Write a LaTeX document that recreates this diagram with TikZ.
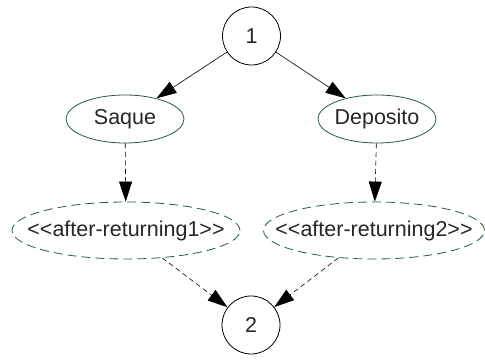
\documentclass[tikz,border=0pt]{standalone}
\usepackage{fontspec}
\newfontfamily\diagfont{Liberation Sans}
\usetikzlibrary{shapes.geometric,arrows.meta}
\definecolor{ovalgreen}{RGB}{36,92,58}
\newcommand{\ovaltext}[1]{\makebox[0pt]{#1}}
\tikzset{
  statecircle/.style={draw=black, line width=0.8pt, circle, minimum size=58pt, inner sep=0pt},
  actionoval/.style={draw=ovalgreen, line width=0.8pt, ellipse, inner sep=0pt},
  adviceoval/.style={draw=ovalgreen, line width=0.8pt, ellipse, inner sep=0pt,
    dash pattern=on 9pt off 5pt},
  flow/.style={draw=black, line width=0.6pt, -{Triangle[length=20pt,width=13pt]}},
  dashedflow/.style={flow, dash pattern=on 5pt off 3.5pt},
}
\begin{document}
\begin{tikzpicture}[x=1pt, y=1pt, font=\diagfont\fontsize{21.5}{26}\selectfont, text=black!85]
  \useasboundingbox (0,0) rectangle (485,361);

  % entry and exit states
  \node[statecircle] (s1) at (251.5,325) {1};
  \node[statecircle] (s2) at (251,36) {2};

  % operations
  \node[actionoval, minimum width=118pt, minimum height=48pt] (saque) at (125,242) {\ovaltext{Saque}};
  \node[actionoval, minimum width=118pt, minimum height=48pt] (deposito) at (377,242) {\ovaltext{Deposito}};

  % advice applied after each operation
  \node[adviceoval, minimum width=228pt, minimum height=57pt] (adv1) at (126,130.5) {\ovaltext{<<after-returning1>>}};
  \node[adviceoval, minimum width=221pt, minimum height=57pt] (adv2) at (374,130.5) {\ovaltext{<<after-returning2>>}};

  % transitions
  \draw[flow] (s1) -- (saque);
  \draw[flow] (s1) -- (deposito);
  \draw[dashedflow] (saque) -- (adv1);
  \draw[dashedflow] (deposito) -- (adv2);
  \draw[dashedflow] (adv1) -- (s2);
  \draw[dashedflow] (adv2) -- (s2);
\end{tikzpicture}
\end{document}
